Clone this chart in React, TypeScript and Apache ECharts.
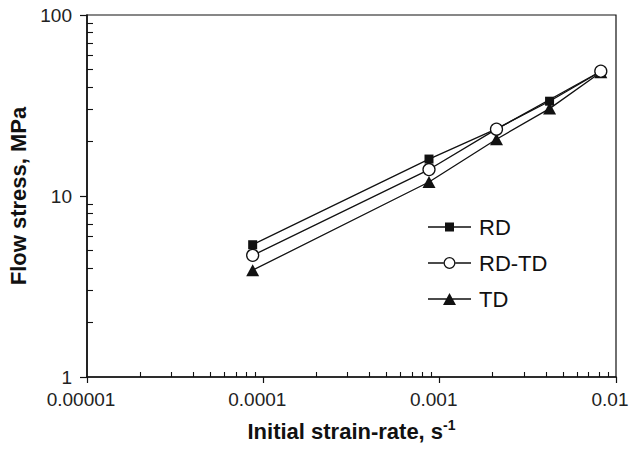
import React, { useEffect, useRef } from 'react';
import * as echarts from 'echarts';

// ---- data ----
const strainRate = [0.000087, 0.00087, 0.0021, 0.0042, 0.0082];
const rdStress = [5.38, 16.0, 23.5, 33.4, 48.7];
// no RD-TD point is visible at 0.0042; its line runs straight from 0.0021 to 0.0082
const rdtdStress: (number | null)[] = [4.7, 14.0, 23.4, null, 48.9];
const tdStress = [3.89, 11.95, 20.6, 30.4, 48.3];
const seriesNames = ['RD', 'RD-TD', 'TD'];
const xTickLabels = ['0.00001', '0.0001', '0.001', '0.01'];
const yTickLabels = ['1', '10', '100'];
const xDecades = [-5, -4, -3];
const yDecades = [0, 1];
const minorFactors = [2, 3, 4, 5, 6, 7, 8, 9];

const FONT = '"Liberation Sans", Arial, Helvetica, sans-serif';
const INK = '#111';

const minorLogs = (decades: number[]) =>
  decades.flatMap((d) => minorFactors.map((f) => d + Math.log10(f)));

const findLabel = (labels: string[], v: number) =>
  labels.find((l) => Math.abs(Math.log10(Number(l)) - Math.log10(v)) < 0.01) ?? '';

const legendIcons: Record<string, string> = {
  RD: 'path://M0,3.85 L43,3.85 L43,5.15 L0,5.15 Z M17,0 L26,0 L26,9 L17,9 Z',
  'RD-TD':
    'path://M0,5.35 L15.5,5.35 L15.5,6.65 L0,6.65 Z M27.5,5.35 L43,5.35 L43,6.65 L27.5,6.65 Z M15.5,6 A6,6 0 1,1 27.5,6 A6,6 0 1,1 15.5,6 Z M16.8,6 A4.7,4.7 0 1,0 26.2,6 A4.7,4.7 0 1,0 16.8,6 Z',
  TD: 'path://M0,5.35 L43,5.35 L43,6.65 L0,6.65 Z M21.5,0 L28,12 L15,12 Z',
};

export default function App() {
  const ref = useRef<HTMLDivElement>(null);

  useEffect(() => {
    if (!ref.current) return;
    const chart = echarts.init(ref.current, undefined, { renderer: 'svg' });

    const pairs = (ys: (number | null)[]) =>
      strainRate.map((x, i) => [x, ys[i] == null ? '-' : ys[i]]);

    chart.setOption({
      animation: false,
      backgroundColor: '#fff',
      textStyle: { fontFamily: FONT },
      grid: {
        left: 87,
        right: 15,
        top: 15,
        bottom: 72,
        show: true,
        borderColor: INK,
        borderWidth: 1.2,
        backgroundColor: 'transparent',
        containLabel: false,
        outerBoundsMode: 'none',
      },
      legend: {
        orient: 'vertical',
        left: 423,
        top: 211,
        itemWidth: 43,
        itemHeight: 14,
        itemGap: 14,
        selectedMode: false,
        textStyle: { fontSize: 22, color: INK, fontFamily: FONT, lineHeight: 22, padding: [0, 0, 0, 3] },
        data: seriesNames.map((n) => ({
          name: n,
          icon: legendIcons[n],
          itemStyle: { color: INK, borderWidth: 0 },
        })),
      },
      xAxis: [
        {
          type: 'log',
          logBase: 10,
          min: 1e-5,
          max: 1e-2,
          position: 'bottom',
          name: '{a|Initial strain-rate, s}{b|-1}',
          nameLocation: 'middle',
          nameGap: 41,
          nameTextStyle: {
            rich: {
              a: { fontSize: 22, fontWeight: 'bold', color: INK, fontFamily: FONT, lineHeight: 26 },
              b: { fontSize: 14, fontWeight: 'bold', color: INK, fontFamily: FONT, lineHeight: 14, verticalAlign: 'top' },
            },
          },
          axisLine: { show: true, lineStyle: { color: INK, width: 1.6 } },
          axisTick: { show: true, inside: false, length: 6, lineStyle: { color: INK, width: 1.2 } },
          minorTick: { show: false },
          splitLine: { show: false },
          axisLabel: {
            fontSize: 19,
            color: '#222',
            fontFamily: FONT,
            margin: 13,
            padding: [0, 12, 0, 0],
            formatter: (v: number) => findLabel(xTickLabels, v),
          },
        },
        {
          type: 'value',
          min: -5,
          max: -2,
          position: 'bottom',
          axisLine: { show: false },
          axisLabel: { show: false },
          splitLine: { show: false },
          axisTick: {
            show: true,
            inside: true,
            length: 5,
            customValues: minorLogs(xDecades),
            lineStyle: { color: INK, width: 1.1 },
          },
        },
      ],
      yAxis: [
        {
          type: 'log',
          logBase: 10,
          min: 1,
          max: 100,
          position: 'left',
          name: 'Flow stress, MPa',
          nameLocation: 'middle',
          nameGap: 55,
          nameTextStyle: { fontSize: 22, fontWeight: 'bold', color: INK, fontFamily: FONT },
          axisLine: { show: true, lineStyle: { color: INK, width: 1.6 } },
          axisTick: { show: true, inside: false, length: 7, lineStyle: { color: INK, width: 1.2 } },
          minorTick: { show: false },
          splitLine: { show: false },
          axisLabel: {
            fontSize: 19,
            color: '#222',
            fontFamily: FONT,
            margin: 15,
            padding: [4, 0, 0, 0],
            formatter: (v: number) => findLabel(yTickLabels, v),
          },
        },
        {
          type: 'value',
          min: 0,
          max: 2,
          position: 'left',
          axisLine: { show: false },
          axisLabel: { show: false },
          splitLine: { show: false },
          axisTick: {
            show: true,
            inside: true,
            length: 6,
            customValues: minorLogs(yDecades),
            lineStyle: { color: INK, width: 1.1 },
          },
        },
      ],
      series: [
        {
          name: 'RD',
          type: 'line',
          xAxisIndex: 0,
          yAxisIndex: 0,
          data: pairs(rdStress),
          symbol: 'rect',
          symbolSize: 9,
          lineStyle: { color: INK, width: 1.3 },
          itemStyle: { color: INK },
          z: 2,
        },
        {
          name: 'RD-TD',
          type: 'line',
          xAxisIndex: 0,
          yAxisIndex: 0,
          data: pairs(rdtdStress),
          connectNulls: true,
          symbol: 'circle',
          symbolSize: 12,
          lineStyle: { color: INK, width: 1.3 },
          itemStyle: { color: '#fff', borderColor: INK, borderWidth: 1.3 },
          z: 4,
        },
        {
          name: 'TD',
          type: 'line',
          xAxisIndex: 0,
          yAxisIndex: 0,
          data: pairs(tdStress),
          symbol: 'triangle',
          symbolSize: [13, 12],
          lineStyle: { color: INK, width: 1.3 },
          itemStyle: { color: INK },
          z: 3,
        },
      ],
    });

    return () => chart.dispose();
  }, []);

  return (
    <div
      ref={ref}
      style={{ position: 'absolute', left: 0, top: 0, width: 631, height: 449, background: '#fff' }}
    />
  );
}
